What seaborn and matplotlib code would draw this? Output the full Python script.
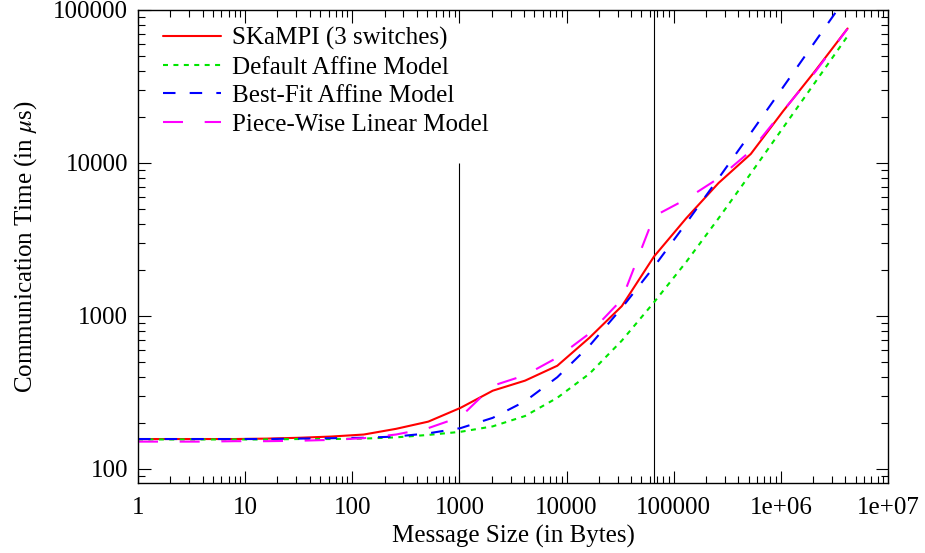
import matplotlib
matplotlib.use("Agg")
import matplotlib.pyplot as plt
from matplotlib.ticker import FixedLocator, LogLocator, NullFormatter
import numpy as np
import pandas as pd
import seaborn as sns

# Message sizes in bytes (powers of two, 1 B .. 4 MB)
sizes = [1, 2, 4, 8, 16, 32, 64, 128, 256, 512, 1024, 2048, 4096, 8192,
         16384, 32768, 65536, 131072, 262144, 524288, 1048576, 2097152, 4194304]

# Communication times in microseconds
skampi = [157, 157, 157, 157, 158, 160, 163, 168, 183, 204, 251, 325, 378, 473,
          722, 1160, 2450, 4360, 7400, 11460, 21800, 40100, 75700]
default_affine = [156, 156, 156, 156, 156, 157, 157, 158, 161, 167, 175, 190, 222, 292,
                  420, 690, 1230, 2260, 4350, 8550, 17000, 33800, 67500]
best_fit_affine = [157, 157, 157, 157, 157, 158, 159, 160, 163, 171, 185, 216, 277, 398,
                   640, 1130, 2100, 4050, 7950, 15700, 31300, 62400, 124500]
piecewise = [151, 151, 151, 152, 152, 153, 155, 159, 168, 185, 219, 350, 410, 535,
             770, 1282, 4490, 5810, 7950, 12000, 21900, 39500, 75500]

series_names = ["SKaMPI (3 switches)", "Default Affine Model",
                "Best-Fit Affine Model", "Piece-Wise Linear Model"]
series_values = [skampi, default_affine, best_fit_affine, piecewise]
series_colors = ["#ff0000", "#00e600", "#0000ff", "#ff00ff"]
series_styles = ["-", (0, (2.4, 2.6)), (0, (6.0, 6.8)), (0, (9.6, 10.4))]

# Protocol thresholds marked by vertical rules (x position, top of rule)
threshold_x = [1000, 65536]
threshold_top = [10000, 100000]

x_ticks = [1, 10, 100, 1000, 10000, 100000, 1e6, 1e7]
x_tick_labels = ["1", "10", "100", "1000", "10000", "100000", "1e+06", "1e+07"]
y_ticks = [100, 1000, 10000, 100000]
y_tick_labels = ["100", "1000", "10000", "100000"]

FS = 18

sns.set_theme(style="ticks")
plt.rcParams["font.family"] = ["Liberation Serif", "DejaVu Serif"]
plt.rcParams["mathtext.fontset"] = "stix"
plt.rcParams["text.color"] = "black"
plt.rcParams["axes.labelcolor"] = "black"
plt.rcParams["xtick.color"] = "black"
plt.rcParams["ytick.color"] = "black"

df = pd.DataFrame({
    "size": np.tile(sizes, len(series_names)),
    "time": np.concatenate(series_values),
    "series": np.repeat(series_names, len(sizes)),
})

fig = plt.figure(figsize=(9.25, 5.53), dpi=100)
ax = fig.add_axes([138 / 925, 1 - 483 / 553, 750 / 925, 473 / 553])

ax.set_xscale("log")
ax.set_yscale("log")
ymin = 81
ax.set_xlim(1, 1e7)
ax.set_ylim(ymin, 100000)

for name, color, ls in zip(series_names, series_colors, series_styles):
    sub = df[df["series"] == name]
    sns.lineplot(data=sub, x="size", y="time", color=color, linestyle=ls,
                 linewidth=1.5, label=name, ax=ax, estimator=None)

ax.vlines(threshold_x, ymin, threshold_top, colors="black", linewidth=0.8, zorder=1)

ax.xaxis.set_major_locator(FixedLocator(x_ticks))
ax.set_xticklabels(x_tick_labels)
ax.yaxis.set_major_locator(FixedLocator(y_ticks))
ax.set_yticklabels(y_tick_labels)
ax.xaxis.set_minor_locator(LogLocator(base=10, subs=np.arange(2, 10), numticks=20))
ax.yaxis.set_minor_locator(LogLocator(base=10, subs=np.arange(2, 10), numticks=20))
ax.xaxis.set_minor_formatter(NullFormatter())
ax.yaxis.set_minor_formatter(NullFormatter())

ax.tick_params(which="both", direction="in", top=True, right=True, colors="black",
               labelcolor="black", labelsize=FS)
ax.tick_params(which="major", length=9, width=0.8, pad=7)
ax.tick_params(axis="x", which="major", pad=10)
ax.tick_params(which="minor", length=5, width=0.8)
for sp in ax.spines.values():
    sp.set_visible(True)
    sp.set_color("black")
    sp.set_linewidth(1.0)

ax.set_xlabel("Message Size (in Bytes)", fontsize=FS, labelpad=4, color="black")
ax.set_ylabel(r"Communication Time (in $\mu$s)", fontsize=FS, labelpad=10, color="black")

leg = ax.legend(loc="upper left", bbox_to_anchor=(0.02, 0.985), frameon=False,
                fontsize=FS, handlelength=2.3, handletextpad=0.45,
                labelspacing=0.24, borderaxespad=0.0)
for t in leg.get_texts():
    t.set_color("black")

fig.savefig("out.png", dpi=100, facecolor="white")
